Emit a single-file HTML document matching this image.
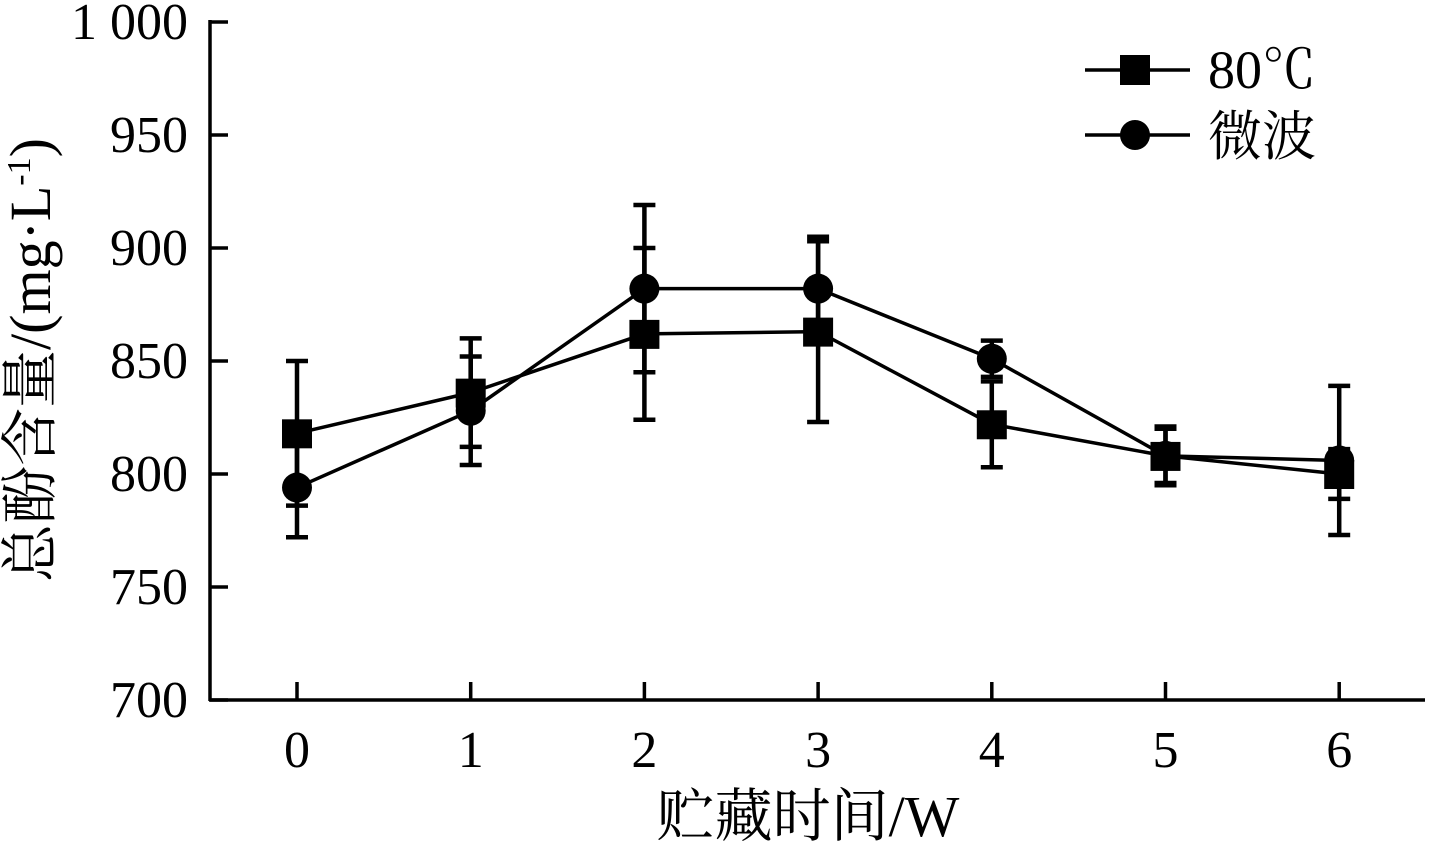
<!DOCTYPE html>
<html><head><meta charset="utf-8"><style>
body{margin:0;background:#fff}
svg text{font-family:"Liberation Serif","Noto Serif CJK SC",serif;fill:#000}
</style></head><body>
<svg id="chart" width="1429" height="845" xmlns="http://www.w3.org/2000/svg">
<g id="axes"></g>
<g id="series"></g>
<g id="legend">
<line x1="1085" y1="70" x2="1190" y2="70" stroke="#000" stroke-width="3.5"/>
<rect x="1120" y="55" width="30" height="30" fill="#000"/>
<text x="1208" y="88" font-size="54">80℃</text>
<line x1="1085" y1="135" x2="1190" y2="135" stroke="#000" stroke-width="3.5"/>
<circle cx="1135" cy="135" r="15" fill="#000"/>
<text x="1208" y="155" font-size="54">微波</text>
</g>
<text x="808" y="836" font-size="58" text-anchor="middle">贮藏时间/W</text>
<text transform="translate(50,360) rotate(-90)" font-size="58" text-anchor="middle">总酚含量/(mg·L<tspan font-size="34" dy="-20">-1</tspan><tspan dy="20">)</tspan></text>
</svg>
<script>
const categories=[0,1,2,3,4,5,6];
const yTicks=[700,750,800,850,900,950,1000];
const yTickLabels=["700","750","800","850","900","950","1 000"];
const heatVals=[818,836,862,863,822,808,800];
const heatErr=[32,24,38,40,19,13,11];
const mwVals=[794,828,882,882,851,808,806];
const mwErr=[22,24,37,23,8,12,33];
const NS="http://www.w3.org/2000/svg";
const X=i=>297+i*173.7;
const Y=v=>700-(v-700)*2.26;
function mk(t,a,p){const e=document.createElementNS(NS,t);for(const k in a)e.setAttribute(k,a[k]);p.appendChild(e);return e;}
const ax=document.getElementById('axes');
const yl=mk('line',{x1:210,y1:20,x2:210,y2:701,stroke:'#000','stroke-width':3.5},ax);


const xl=mk('line',{x1:209,y1:700,x2:1425,y2:700,stroke:'#000','stroke-width':3.5},ax);


yTicks.forEach((v,i)=>{
 mk('line',{x1:210,y1:Y(v),x2:228,y2:Y(v),stroke:'#000','stroke-width':3.5},ax);
 const t=mk('text',{x:188,y:Y(v)+17,'font-size':52,'text-anchor':'end'},ax);
 t.textContent=yTickLabels[i];
 
 
});
categories.forEach((c,i)=>{
 mk('line',{x1:X(i),y1:700,x2:X(i),y2:682,stroke:'#000','stroke-width':3.5},ax);
 const t=mk('text',{x:X(i),y:767,'font-size':52,'text-anchor':'middle'},ax);
 t.textContent=String(c);
 
 
});
const sg=document.getElementById('series');
function drawSeries(vals,err,shape,name){
 const g=mk('g',{},sg);
 
 
 vals.forEach((v,i)=>{
  const lo=Y(v-err[i]),hi=Y(v+err[i]);
  mk('line',{x1:X(i),y1:hi,x2:X(i),y2:lo,stroke:'#000','stroke-width':4.5},g);
  mk('line',{x1:X(i)-11,y1:hi,x2:X(i)+11,y2:hi,stroke:'#000','stroke-width':4.5},g);
  mk('line',{x1:X(i)-11,y1:lo,x2:X(i)+11,y2:lo,stroke:'#000','stroke-width':4.5},g);
 });
 const pts=vals.map((v,i)=>X(i)+','+Y(v)).join(' ');
 const pl=mk('polyline',{points:pts,fill:'none',stroke:'#000','stroke-width':3.5},g);
 
 
 vals.forEach((v,i)=>{
  let m;
  if(shape==='sq') m=mk('rect',{x:X(i)-15,y:Y(v)-14,width:30,height:29,fill:'#000'},g);
  else m=mk('circle',{cx:X(i),cy:Y(v),r:15,fill:'#000'},g);
  
  
 });
}
drawSeries(mwVals,mwErr,'ci','series-microwave');
drawSeries(heatVals,heatErr,'sq','series-80c');
</script>
</body></html>
